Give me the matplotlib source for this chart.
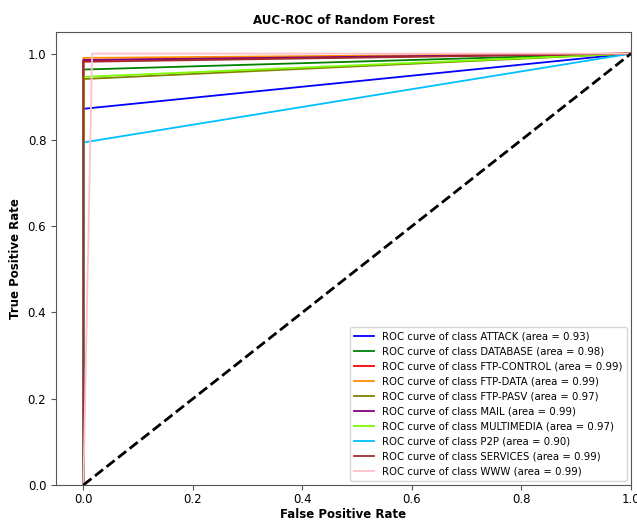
import numpy as np
import matplotlib
matplotlib.use('Agg')
import matplotlib.pyplot as plt

# per-class ROC operating point (one threshold -> 3 point curve)
classes = ['ATTACK', 'DATABASE', 'FTP-CONTROL', 'FTP-DATA', 'FTP-PASV',
           'MAIL', 'MULTIMEDIA', 'P2P', 'SERVICES', 'WWW']
fpr_mid = [0.0, 0.0, 0.0, 0.0, 0.0, 0.0, 0.0, 0.0, 0.0, 0.016]
tpr_mid = [0.872, 0.963, 0.985, 0.990, 0.941, 0.985, 0.946, 0.794, 0.981, 1.0]
aucs = [0.93, 0.98, 0.99, 0.99, 0.97, 0.99, 0.97, 0.90, 0.99, 0.99]
colors = ['blue', 'green', 'red', 'darkorange', 'olive', 'purple',
          'lawngreen', 'deepskyblue', 'brown', 'pink']

fig = plt.figure(figsize=(6.37, 5.24), dpi=100)
ax = fig.add_axes([0.0879, 0.0744, 0.9027, 0.8645])

for i in range(len(classes)):
    fpr = [0.0, fpr_mid[i], 1.0]
    tpr = [0.0, tpr_mid[i], 1.0]
    ax.plot(fpr, tpr, color=colors[i], lw=1.3,
            label=f'ROC curve of class {classes[i]} (area = {aucs[i]:0.2f})')

ax.plot([0, 1], [0, 1], 'k--', lw=2)

ax.set_xlim([-0.05, 1.0])
ax.set_ylim([0.0, 1.05])
ax.tick_params(labelsize=8.5, color='#555555')
ax.tick_params(axis='x', pad=2.5)
for s in ax.spines.values():
    s.set_color('#555555')
ax.set_xlabel('False Positive Rate', fontsize=8.5, fontweight='bold', labelpad=1.5)
ax.set_ylabel('True Positive Rate', fontsize=8.5, fontweight='bold')
ax.set_title('AUC-ROC of Random Forest', fontsize=8.5, fontweight='bold')
ax.legend(loc='lower right', fontsize=7.3, borderaxespad=0.4)

fig.savefig('out.png', dpi=100)
